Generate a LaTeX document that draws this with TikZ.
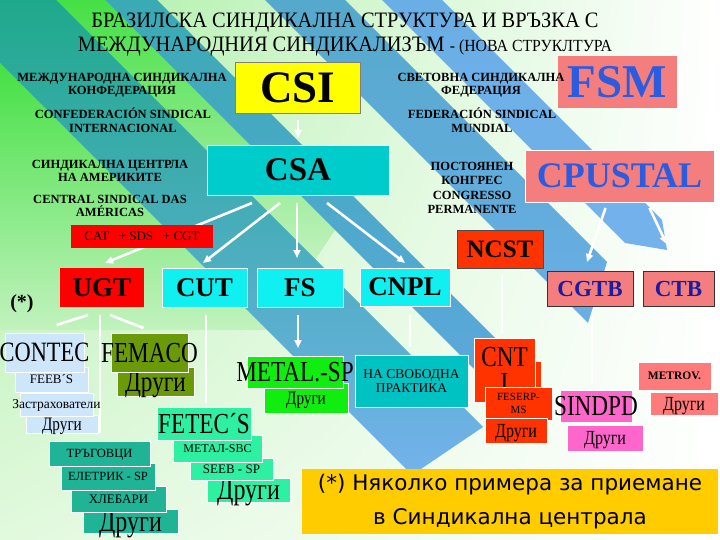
\documentclass[tikz,border=0pt]{standalone}
\usepackage{fontspec}
\setmainfont{Liberation Serif}
\newfontfamily\slimfont[FakeStretch=0.8]{Liberation Serif}
\newfontfamily\headfont[FakeStretch=0.93]{Liberation Serif}
\newfontfamily\notefont{DejaVu Sans}
\usepackage{xcolor}
\usetikzlibrary{arrows.meta,shadings}

\definecolor{bgtl}{HTML}{A6EEA0}
\definecolor{bgbl}{HTML}{E2F9DE}
\definecolor{greenA}{HTML}{45E045}
\definecolor{greenB}{HTML}{C2F2BE}
\definecolor{tealA}{HTML}{1FA98C}
\definecolor{tealB}{HTML}{3DA8C0}
\definecolor{tealC}{HTML}{3AAAB4}
\definecolor{blueA}{HTML}{74B2EC}
\definecolor{blueB}{HTML}{5EA8DE}
\definecolor{blueC}{HTML}{55A9CC}
\definecolor{blueD}{HTML}{6AAEE6}
\definecolor{csiyellow}{HTML}{FFFF00}
\definecolor{fsmpink}{HTML}{F47E7E}
\definecolor{fsmblue}{HTML}{2B5CE0}
\definecolor{csateal}{HTML}{00CCCC}
\definecolor{cutcyan}{HTML}{10F0F0}
\definecolor{ugtred}{HTML}{FF0000}
\definecolor{ncstred}{HTML}{FF3300}
\definecolor{cgtbblue}{HTML}{1C1CA0}
\definecolor{contecblue}{HTML}{CDE6FA}
\definecolor{femacoolive}{HTML}{6A9A08}
\definecolor{metalgreen}{HTML}{10EE10}
\definecolor{libreteal}{HTML}{00C2C2}
\definecolor{sindpink}{HTML}{FF66CC}
\definecolor{metrovred}{HTML}{FF7A7A}
\definecolor{fetecaqua}{HTML}{2EF0A2}
\definecolor{tradeteal}{HTML}{20B496}
\definecolor{noteyellow}{HTML}{FFCC00}

\pgfdeclarelayer{bg}
\pgfdeclarelayer{lines}
\pgfsetlayers{bg,lines,main}

\newcommand{\boxtext}[1]{\makebox[0pt]{\raisebox{-.33em}[0pt][0pt]{#1}}}

\tikzset{
  box/.style={rectangle, inner sep=0pt, outer sep=0pt},
  rim/.style={draw=white, line width=0.6pt},
  orgtxt/.style={font=\fontsize{12.5}{13.5}\selectfont\bfseries, align=center, inner sep=0pt},
  bigbf/.style={font=\fontsize{#1}{#1}\selectfont\bfseries},
  slim/.style={font=\slimfont\fontsize{#1}{#1}\selectfont},
  smalltxt/.style={font=\fontsize{#1}{#1}\selectfont},
  wline/.style={white, line width=2.6pt},
  warrow/.style={wline, -{Triangle[length=8pt,width=7pt]}},
  tline/.style={white, line width=1.3pt},
}

\begin{document}
\begin{tikzpicture}[x=1pt,y=-1pt]
\useasboundingbox (0,0) rectangle (720,540);

% background stripes
\begin{pgfonlayer}{bg}
\begin{scope}
\clip (0,0) rectangle (720,540);
\shade[upper left=bgtl, upper right=white, lower left=bgbl, lower right=white] (0,0) rectangle (720,540);
\shade[top color=greenA, bottom color=greenB] (0,63) -- (267,330) -- (0,330) -- cycle;
\shade[top color=greenA, bottom color=greenB] (55,0) -- (315,260) -- (335,230) -- (105,0) -- cycle;
\shade[top color=tealA, middle color=tealB, bottom color=blueA] (-63,0) -- (412,475) -- (483,427) -- (56,0) -- cycle;
\shade[top color=tealC, bottom color=blueB] (105,0) -- (500,395) -- (520,363) -- (157,0) -- cycle;
\shade[top color=blueC, bottom color=blueD] (265,0) -- (588,323) -- (607,262) -- (345,0) -- cycle;
\shade[top color=blueD, bottom color=blueA] (382,0) -- (625,243) -- (667,250) -- (662,220) -- (442,0) -- cycle;
\end{scope}
\end{pgfonlayer}

\node[inner sep=0pt, anchor=base, font=\headfont\fontsize{22}{22}\selectfont] (title1) at (345,28) {БРАЗИЛСКА СИНДИКАЛНА СТРУКТУРА И ВРЪЗКА С};
\node[inner sep=0pt, anchor=base, font=\headfont\fontsize{22}{22}\selectfont] (title2) at (345,52) {МЕЖДУНАРОДНИЯ СИНДИКАЛИЗЪМ {\fontsize{17}{17}\selectfont - (НОВА СТРУКЛТУРА}};

\node[box, fill=csiyellow, draw=black!50, minimum width=125pt, minimum height=51pt, bigbf=45] (CSI) at (298,87.5) {\boxtext{CSI}};
\node[box, fill=fsmpink, minimum width=119pt, minimum height=52pt, bigbf=47, text=fsmblue] (FSM) at (617.5,82) {\boxtext{FSM}};
\node[box, rim, fill=csateal, minimum width=182pt, minimum height=50pt, bigbf=33] (CSA) at (298,170) {\boxtext{CSA}};
\node[box, rim, fill=fsmpink, minimum width=189pt, minimum height=52pt, bigbf=36, text=fsmblue] (CPUSTAL) at (619.5,176) {\boxtext{CPUSTAL}};
\node[box, fill=ugtred, minimum width=142pt, minimum height=23pt, smalltxt=13] (CAT) at (142,236.5) {\boxtext{CAT\ \ \ + SDS\ \ \ + CGT}};
\node[box, fill=ncstred, draw=black!70, minimum width=86pt, minimum height=38pt, bigbf=25] (NCST) at (500,249) {\boxtext{NCST}};

\node[orgtxt] (csiname) at (122,85) {МЕЖДУНАРОДНА СИНДИКАЛНА\\КОНФЕДЕРАЦИЯ};
\node[orgtxt] (csispan) at (123,120) {CONFEDERACIÓN SINDICAL\\INTERNACIONAL};
\node[orgtxt] (fsmname) at (481,85) {СВЕТОВНА СИНДИКАЛНА\\ФЕДЕРАЦИЯ};
\node[orgtxt] (fsmspan) at (482,120) {FEDERACIÓN SINDICAL\\MUNDIAL};
\node[orgtxt] (csaname) at (110,171) {СИНДИКАЛНА ЦЕНТРЛА\\НА АМЕРИКИТЕ};
\node[orgtxt] (csaport) at (110,206) {CENTRAL SINDICAL DAS\\AMÉRICAS};
\node[orgtxt, font=\fontsize{12.5}{14.3}\selectfont\bfseries] (cpuname) at (472,188) {ПОСТОЯНЕН\\КОНГРЕС\\CONGRESSO\\PERMANENTE};

\node[font=\fontsize{20}{20}\selectfont\bfseries] (star) at (22,304) {(*)};
\node[box, fill=ugtred, minimum width=84pt, minimum height=39pt, bigbf=27] (UGT) at (102,287.5) {\boxtext{UGT}};
\node[box, rim, fill=cutcyan, minimum width=85pt, minimum height=39pt, bigbf=27] (CUT) at (204.5,287.5) {\boxtext{CUT}};
\node[box, rim, fill=cutcyan, minimum width=86pt, minimum height=39pt, bigbf=27] (FS) at (300,287.5) {\boxtext{FS}};
\node[box, rim, fill=cutcyan, minimum width=90pt, minimum height=38pt, bigbf=27] (CNPL) at (405,287) {\boxtext{CNPL}};
\node[box, fill=fsmpink, draw=black!80, minimum width=86pt, minimum height=35pt, bigbf=23, text=cgtbblue] (CGTB) at (590,288.5) {\boxtext{CGTB}};
\node[box, fill=fsmpink, draw=black!80, minimum width=71pt, minimum height=35pt, bigbf=23, text=cgtbblue] (CTB) at (678.5,288.5) {\boxtext{CTB}};

% UGT
\node[box, rim, fill=contecblue, minimum width=72pt, minimum height=18pt, slim=19] (contecother) at (62,424.5) {\boxtext{Други}};
\node[box, rim, fill=contecblue, minimum width=73pt, minimum height=23pt, smalltxt=13.5] (insur) at (56.5,404.5) {\boxtext{Застрахователи}};
\node[box, rim, fill=contecblue, minimum width=73pt, minimum height=25pt, smalltxt=13] (feebs) at (51.5,379.5) {\boxtext{FEEB´S}};
\node[box, rim, fill=contecblue, minimum width=79pt, minimum height=39pt, slim=28] (contec) at (44.5,352.5) {\boxtext{CONTEC}};
\node[box, rim, fill=femacoolive, minimum width=77pt, minimum height=29pt, slim=29] (femacoother) at (155.5,381.5) {\boxtext{Други}};
\node[box, rim, fill=femacoolive, minimum width=77pt, minimum height=39pt, slim=29] (femaco) at (149.5,352.5) {\boxtext{FEMACO}};
\node[box, rim, fill=tradeteal, minimum width=95pt, minimum height=24pt, slim=30] (tradersother) at (130.5,521.5) {\boxtext{Други}};
\node[box, rim, fill=tradeteal, minimum width=95pt, minimum height=26pt, smalltxt=13] (bakers) at (118.5,499.5) {\boxtext{ХЛЕБАРИ}};
\node[box, rim, fill=tradeteal, minimum width=94pt, minimum height=27pt, smalltxt=12.5] (electric) at (108,476.5) {\boxtext{ЕЛЕТРИК - SP}};
\node[box, rim, fill=tradeteal, minimum width=101pt, minimum height=25pt, smalltxt=12.5] (traders) at (99.5,453.5) {\boxtext{ТРЪГОВЦИ}};

% CUT
\node[box, rim, fill=fetecaqua, minimum width=83pt, minimum height=24pt, slim=30] (fetecother) at (248.5,490) {\boxtext{Други}};
\node[box, rim, fill=fetecaqua, minimum width=83pt, minimum height=22pt, smalltxt=13] (fetecseeb) at (231.5,469) {\boxtext{SEEB - SP}};
\node[box, rim, fill=fetecaqua, minimum width=89pt, minimum height=27pt, smalltxt=12] (fetecsbc) at (217.5,448.5) {\boxtext{МЕТАЛ-SBC}};
\node[box, rim, fill=fetecaqua, minimum width=94pt, minimum height=33pt, slim=29] (fetec) at (204,423.5) {\boxtext{FETEC´S}};

% FS, CNPL
\node[box, rim, fill=metalgreen, minimum width=84pt, minimum height=30pt, slim=19] (metalother) at (306,398) {\boxtext{Други}};
\node[box, rim, fill=metalgreen, minimum width=96pt, minimum height=32pt, slim=29] (metal) at (295,372) {\boxtext{METAL.-SP}};
\node[box, rim, fill=libreteal, minimum width=113pt, minimum height=52pt, font=\fontsize{13.5}{14.5}\selectfont, align=center] (libre) at (411.5,381) {НА СВОБОДНА\\ПРАКТИКА};

% NCST
\node[box, fill=ncstred, minimum width=61pt, minimum height=28pt] (cntback) at (510.5,376) {};
\node[box, rim, fill=ncstred, minimum width=61pt, minimum height=64pt, font=\slimfont\fontsize{29}{26}\selectfont, align=center] (cnt) at (504.5,370) {CNT\\I};
\node[box, rim, fill=ncstred, minimum width=67pt, minimum height=33pt, font=\fontsize{11}{12.5}\selectfont, align=center] (feserp) at (518.5,403.5) {FESERP-\\MS};
\node[box, rim, fill=ncstred, minimum width=62pt, minimum height=25pt, slim=20] (cntother) at (516,431) {\boxtext{Други}};

% CGTB, CTB
\node[box, rim, fill=sindpink, minimum width=72pt, minimum height=32pt, slim=29] (sindpd) at (596,406) {\boxtext{SINDPD}};
\node[box, rim, fill=sindpink, minimum width=76pt, minimum height=26pt, slim=20] (sindpdother) at (605,438) {\boxtext{Други}};
\node[box, rim, fill=metrovred, minimum width=73pt, minimum height=28pt, bigbf=11.5] (metrov) at (674.5,376) {\boxtext{METROV.}};
\node[box, rim, fill=metrovred, minimum width=68pt, minimum height=23pt, slim=20] (metrovother) at (684,403.5) {\boxtext{Други}};

\node[box, fill=noteyellow, minimum width=416pt, minimum height=65pt, font=\notefont\fontsize{21.5}{34}\selectfont, align=center] (note) at (510,501.5) {(*) Няколко примера за приемане\\в Синдикална централа};

\begin{pgfonlayer}{lines}
\draw[warrow] ([yshift=-7pt]CSI.south) -- ([yshift=7pt]CSA.north);
\draw[warrow] ([xshift=-46pt,yshift=-8pt]CSA.south) -- ([xshift=3pt,yshift=5pt]UGT.north);
\draw[warrow] ([xshift=-18pt,yshift=-8pt]CSA.south) -- ([xshift=-1.5pt,yshift=5pt]CUT.north);
\draw[warrow] ([xshift=-1pt,yshift=-8pt]CSA.south) -- ([xshift=-3pt,yshift=10pt]FS.north);
\draw[warrow] ([xshift=29pt,yshift=-8pt]CSA.south) -- ([yshift=5pt]CNPL.north);
\draw[warrow] ([xshift=-14pt,yshift=-6pt]CPUSTAL.south) -- ([xshift=-3pt,yshift=9pt]CGTB.north);
\draw[warrow] ([xshift=30pt,yshift=-6pt]CPUSTAL.south) -- ([xshift=-12pt,yshift=27pt]CTB.north);
\draw[wline] ([xshift=-14pt,yshift=-8pt]UGT.south) -- ([xshift=12pt,yshift=8pt]contec.north);
\draw[wline] ([xshift=-2pt,yshift=-8pt]UGT.south) -- ([xshift=0.5pt,yshift=8pt]traders.north);
\draw[wline] ([xshift=8pt,yshift=-8pt]UGT.south) -- ([xshift=-6pt,yshift=5pt]femaco.north);
\draw[wline] ([xshift=1.5pt,yshift=-8pt]CUT.south) -- ([xshift=2pt,yshift=4pt]fetec.north);
\draw[warrow] ([xshift=-2pt,yshift=-8pt]FS.south) -- ([xshift=3pt,yshift=8pt]metal.north);
\draw[tline] ([xshift=5pt,yshift=-9pt]CNPL.south) -- ([xshift=-1.5pt,yshift=8pt]libre.north);
\draw[tline] ([xshift=2pt,yshift=-7pt]NCST.south) -- ([xshift=-2.5pt,yshift=5pt]cnt.north);
\draw[tline] ([xshift=2pt,yshift=-11pt]CGTB.south) -- ([xshift=-4pt,yshift=5pt]sindpd.north);
\end{pgfonlayer}
\end{tikzpicture}
\end{document}
